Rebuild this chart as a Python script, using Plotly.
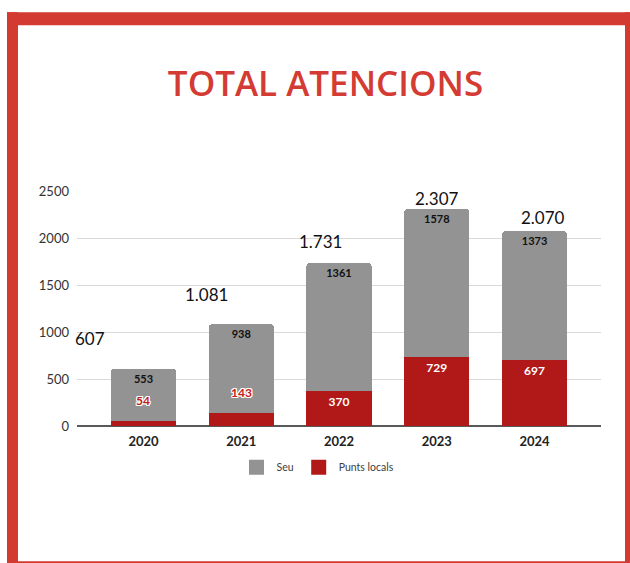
import plotly.graph_objects as go

years = ["2020", "2021", "2022", "2023", "2024"]
seu = [553, 938, 1361, 1578, 1373]
punts_locals = [54, 143, 370, 729, 697]
totals_text = ["607", "1.081", "1.731", "2.307", "2.070"]
y_ticks = [0, 500, 1000, 1500, 2000, 2500]

# label placement tweaks (pixels) for the total labels
total_dx = [-53, -35, -19, 0, 8]
total_dy = [30, 30, 22, 11, 14]

GRAY = "#939393"
RED = "#B01917"
BORDER = "#D23A32"
FONT = "Lato"

W, H = 630, 563
L, R, T, B = 77, 29, 190.7, 137.3
PW = W - L - R
PH = H - T - B


def px2paper_x(px):
    return (px - L) / PW


def px2paper_y(py):
    return (H - B - py) / PH


totals = [a + b for a, b in zip(seu, punts_locals)]
red_text = [str(v) if v >= 300 else "" for v in punts_locals]

fig = go.Figure()
fig.add_trace(go.Bar(
    x=years, y=punts_locals, name="Punts locals", showlegend=False,
    marker=dict(color=RED, line=dict(width=0)),
    text=red_text, textposition="inside", insidetextanchor="end",
    textfont=dict(family=FONT, size=12, color="white", weight="bold"),
    textangle=0, hoverinfo="skip",
))
fig.add_trace(go.Bar(
    x=years, y=seu, name="Seu", showlegend=False,
    marker=dict(color=GRAY, line=dict(width=0)),
    text=[str(v) for v in seu], textposition="inside", insidetextanchor="end",
    textfont=dict(family=FONT, size=11, color="#111111", weight="bold"),
    textangle=0, hoverinfo="skip",
))
# legend entries (larger square swatches)
for name, col in [("Seu", GRAY), ("Punts locals", RED)]:
    fig.add_trace(go.Scatter(
        x=[None], y=[None], mode="markers", name=name,
        marker=dict(symbol="square", size=15, color=col, line=dict(width=0)),
        hoverinfo="skip",
    ))

annotations = []
for i, (t, tt) in enumerate(zip(totals, totals_text)):
    annotations.append(dict(
        x=i, y=t, xref="x", yref="y", text=tt, showarrow=False,
        xshift=total_dx[i], yshift=total_dy[i],
        font=dict(family=FONT, size=17, color="#111111"),
    ))
outline = ", ".join("%dpx %dpx 0 white" % d for d in
                    [(-1, 0), (1, 0), (0, -1), (0, 1), (-1, -1), (1, 1), (-1, 1), (1, -1)])
for i, v in enumerate(punts_locals):
    if v < 300:
        annotations.append(dict(
            x=i, y=v, xref="x", yref="y", text="<b>%d</b>" % v, showarrow=False,
            yshift=20,
            font=dict(family=FONT, size=12, color="#C0201B", shadow=outline),
        ))

shapes = []
for (x0, y0, x1, y1) in [(7, 12, 630, 25), (7, 12, 18, 563), (625, 12, 630, 563), (7, 561, 630, 563)]:
    shapes.append(dict(
        type="rect", xref="paper", yref="paper",
        x0=px2paper_x(x0), x1=px2paper_x(x1), y0=px2paper_y(y1), y1=px2paper_y(y0),
        fillcolor=BORDER, line=dict(width=0), layer="above",
    ))

fig.update_layout(
    width=W, height=H,
    margin=dict(l=L, r=R, t=T, b=B, pad=0),
    paper_bgcolor="white", plot_bgcolor="white",
    barmode="stack", bargap=0.335, barcornerradius=3,
    title=dict(text="TOTAL ATENCIONS", x=325.5 / W, xref="container", xanchor="center",
               y=1 - 84 / H, yref="container", yanchor="middle",
               font=dict(family="Open Sans", size=35, color="#D33B33", weight=600)),
    xaxis=dict(type="category", range=[-0.68, 4.68], showgrid=False, showline=False,
               ticks="", tickfont=dict(family=FONT, size=13, color="#222222", weight="bold"),
               ticklabelstandoff=6, zeroline=False),
    yaxis=dict(range=[0, 2500], tickvals=y_ticks, showgrid=True, gridcolor="#D9D9D9",
               gridwidth=1, zeroline=True, zerolinecolor="#595959", zerolinewidth=1.5,
               showline=False, ticks="", ticklabelstandoff=7,
               tickfont=dict(family=FONT, size=13, color="#333333")),
    legend=dict(orientation="h", x=px2paper_x(318), xanchor="center", y=px2paper_y(467),
                yanchor="middle", font=dict(family=FONT, size=10.5, color="#404040"),
                itemwidth=30, traceorder="normal"),
    annotations=annotations,
    shapes=shapes,
    showlegend=True,
)

fig.write_html("out.html", config={"displayModeBar": False},
               post_script="document.body.style.margin='0';")
